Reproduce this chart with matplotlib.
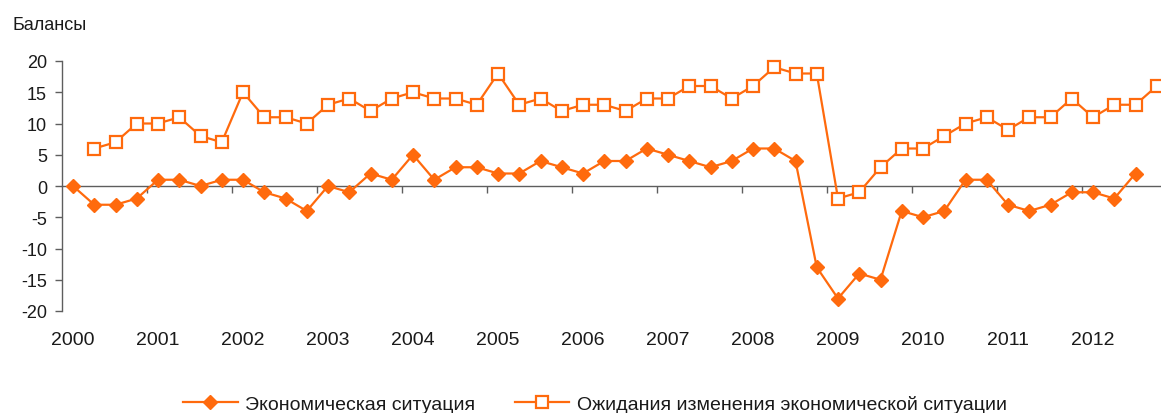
import matplotlib
matplotlib.use("Agg")
import matplotlib.pyplot as plt
import matplotlib.transforms as mtransforms
from matplotlib import font_manager

# ---- data ----
years = ["2000", "2001", "2002", "2003", "2004", "2005", "2006",
         "2007", "2008", "2009", "2010", "2011", "2012"]
# quarterly values, 2000Q1 .. 2012Q3
economic_situation = [0, -3, -3, -2, 1, 1, 0, 1,
                      1, -1, -2, -4, 0, -1, 2, 1,
                      5, 1, 3, 3, 2, 2, 4, 3,
                      2, 4, 4, 6, 5, 4, 3, 4,
                      6, 6, 4, -13, -18, -14, -15, -4,
                      -5, -4, 1, 1, -3, -4, -3, -1,
                      -1, -2, 2]
# quarterly values, 2000Q2 .. 2012Q4
expectations = [6, 7, 10, 10, 11, 8, 7,
                15, 11, 11, 10, 13, 14, 12, 14,
                15, 14, 14, 13, 18, 13, 14, 12,
                13, 13, 12, 14, 14, 16, 16, 14,
                16, 19, 18, 18, -2, -1, 3, 6,
                6, 8, 10, 11, 9, 11, 11, 14,
                11, 13, 13, 16]
series_labels = ["Экономическая ситуация",
                 "Ожидания изменения экономической ситуации"]
y_title = "Балансы"
y_ticks = [-20, -15, -10, -5, 0, 5, 10, 15, 20]

# ---- fonts ----
available = {f.name for f in font_manager.fontManager.ttflist}
fam = [f for f in ["Liberation Sans Narrow", "Liberation Sans", "DejaVu Sans"] if f in available]
plt.rcParams["font.family"] = fam

ORANGE = "#FF6A0D"
AXCOL = "#5E5E5E"
TXT = "#1A1A1A"

W, H = 1161, 414
fig = plt.figure(figsize=(W / 100, H / 100), dpi=100)

x0_px, step = 73.0, 21.25
left_px = x0_px - 0.5 * step
right_px = x0_px + 51.5 * step
bottom_px, top_px = 312.0, 62.0
ax = fig.add_axes([left_px / W, (H - bottom_px) / H,
                   (right_px - left_px) / W, (bottom_px - top_px) / H])

x_econ = list(range(len(economic_situation)))
x_exp = list(range(1, 1 + len(expectations)))

ax.plot(x_econ, economic_situation, color=ORANGE, lw=1.6, marker="D",
        ms=7, mfc=ORANGE, mec=ORANGE, label=series_labels[0], clip_on=False, zorder=3)
ax.plot(x_exp, expectations, color=ORANGE, lw=1.6, marker="s",
        ms=8, mfc="white", mec=ORANGE, mew=1.6, label=series_labels[1], clip_on=False, zorder=3)

ax.set_xlim(-0.5, 51.5)
ax.set_ylim(-20, 20)
ax.set_yticks(y_ticks)
ax.set_yticklabels([str(v) for v in y_ticks], fontsize=13, color=TXT)

for s in ["top", "right"]:
    ax.spines[s].set_visible(False)
ax.spines["left"].set_color(AXCOL)
ax.spines["bottom"].set_color(AXCOL)
ax.spines["bottom"].set_position(("data", 0))
ax.spines["left"].set_linewidth(1.0)
ax.spines["bottom"].set_linewidth(1.0)

ax.set_xticks([4 * k + 3.5 for k in range(len(years))])
ax.set_xticklabels([])
ax.tick_params(axis="x", direction="out", length=5, color=AXCOL, width=1)
ax.tick_params(axis="y", direction="out", length=5, color=AXCOL, width=1, pad=6)

trans = mtransforms.blended_transform_factory(ax.transData, fig.transFigure)
for k, yl in enumerate(years):
    ax.text(4 * k, (H - 341) / H, yl, transform=trans, ha="center", va="center",
            fontsize=14, color=TXT)

fig.text(12 / W, (H - 25) / H, y_title, ha="left", va="center", fontsize=13, color=TXT)

leg = fig.legend(loc="center", bbox_to_anchor=(595 / W, (H - 405) / H), ncol=2,
                 frameon=False, fontsize=14, handlelength=2.8, columnspacing=2.0,
                 handletextpad=0.4, borderaxespad=0)
for t in leg.get_texts():
    t.set_color(TXT)

fig.savefig("out.png", dpi=100)
